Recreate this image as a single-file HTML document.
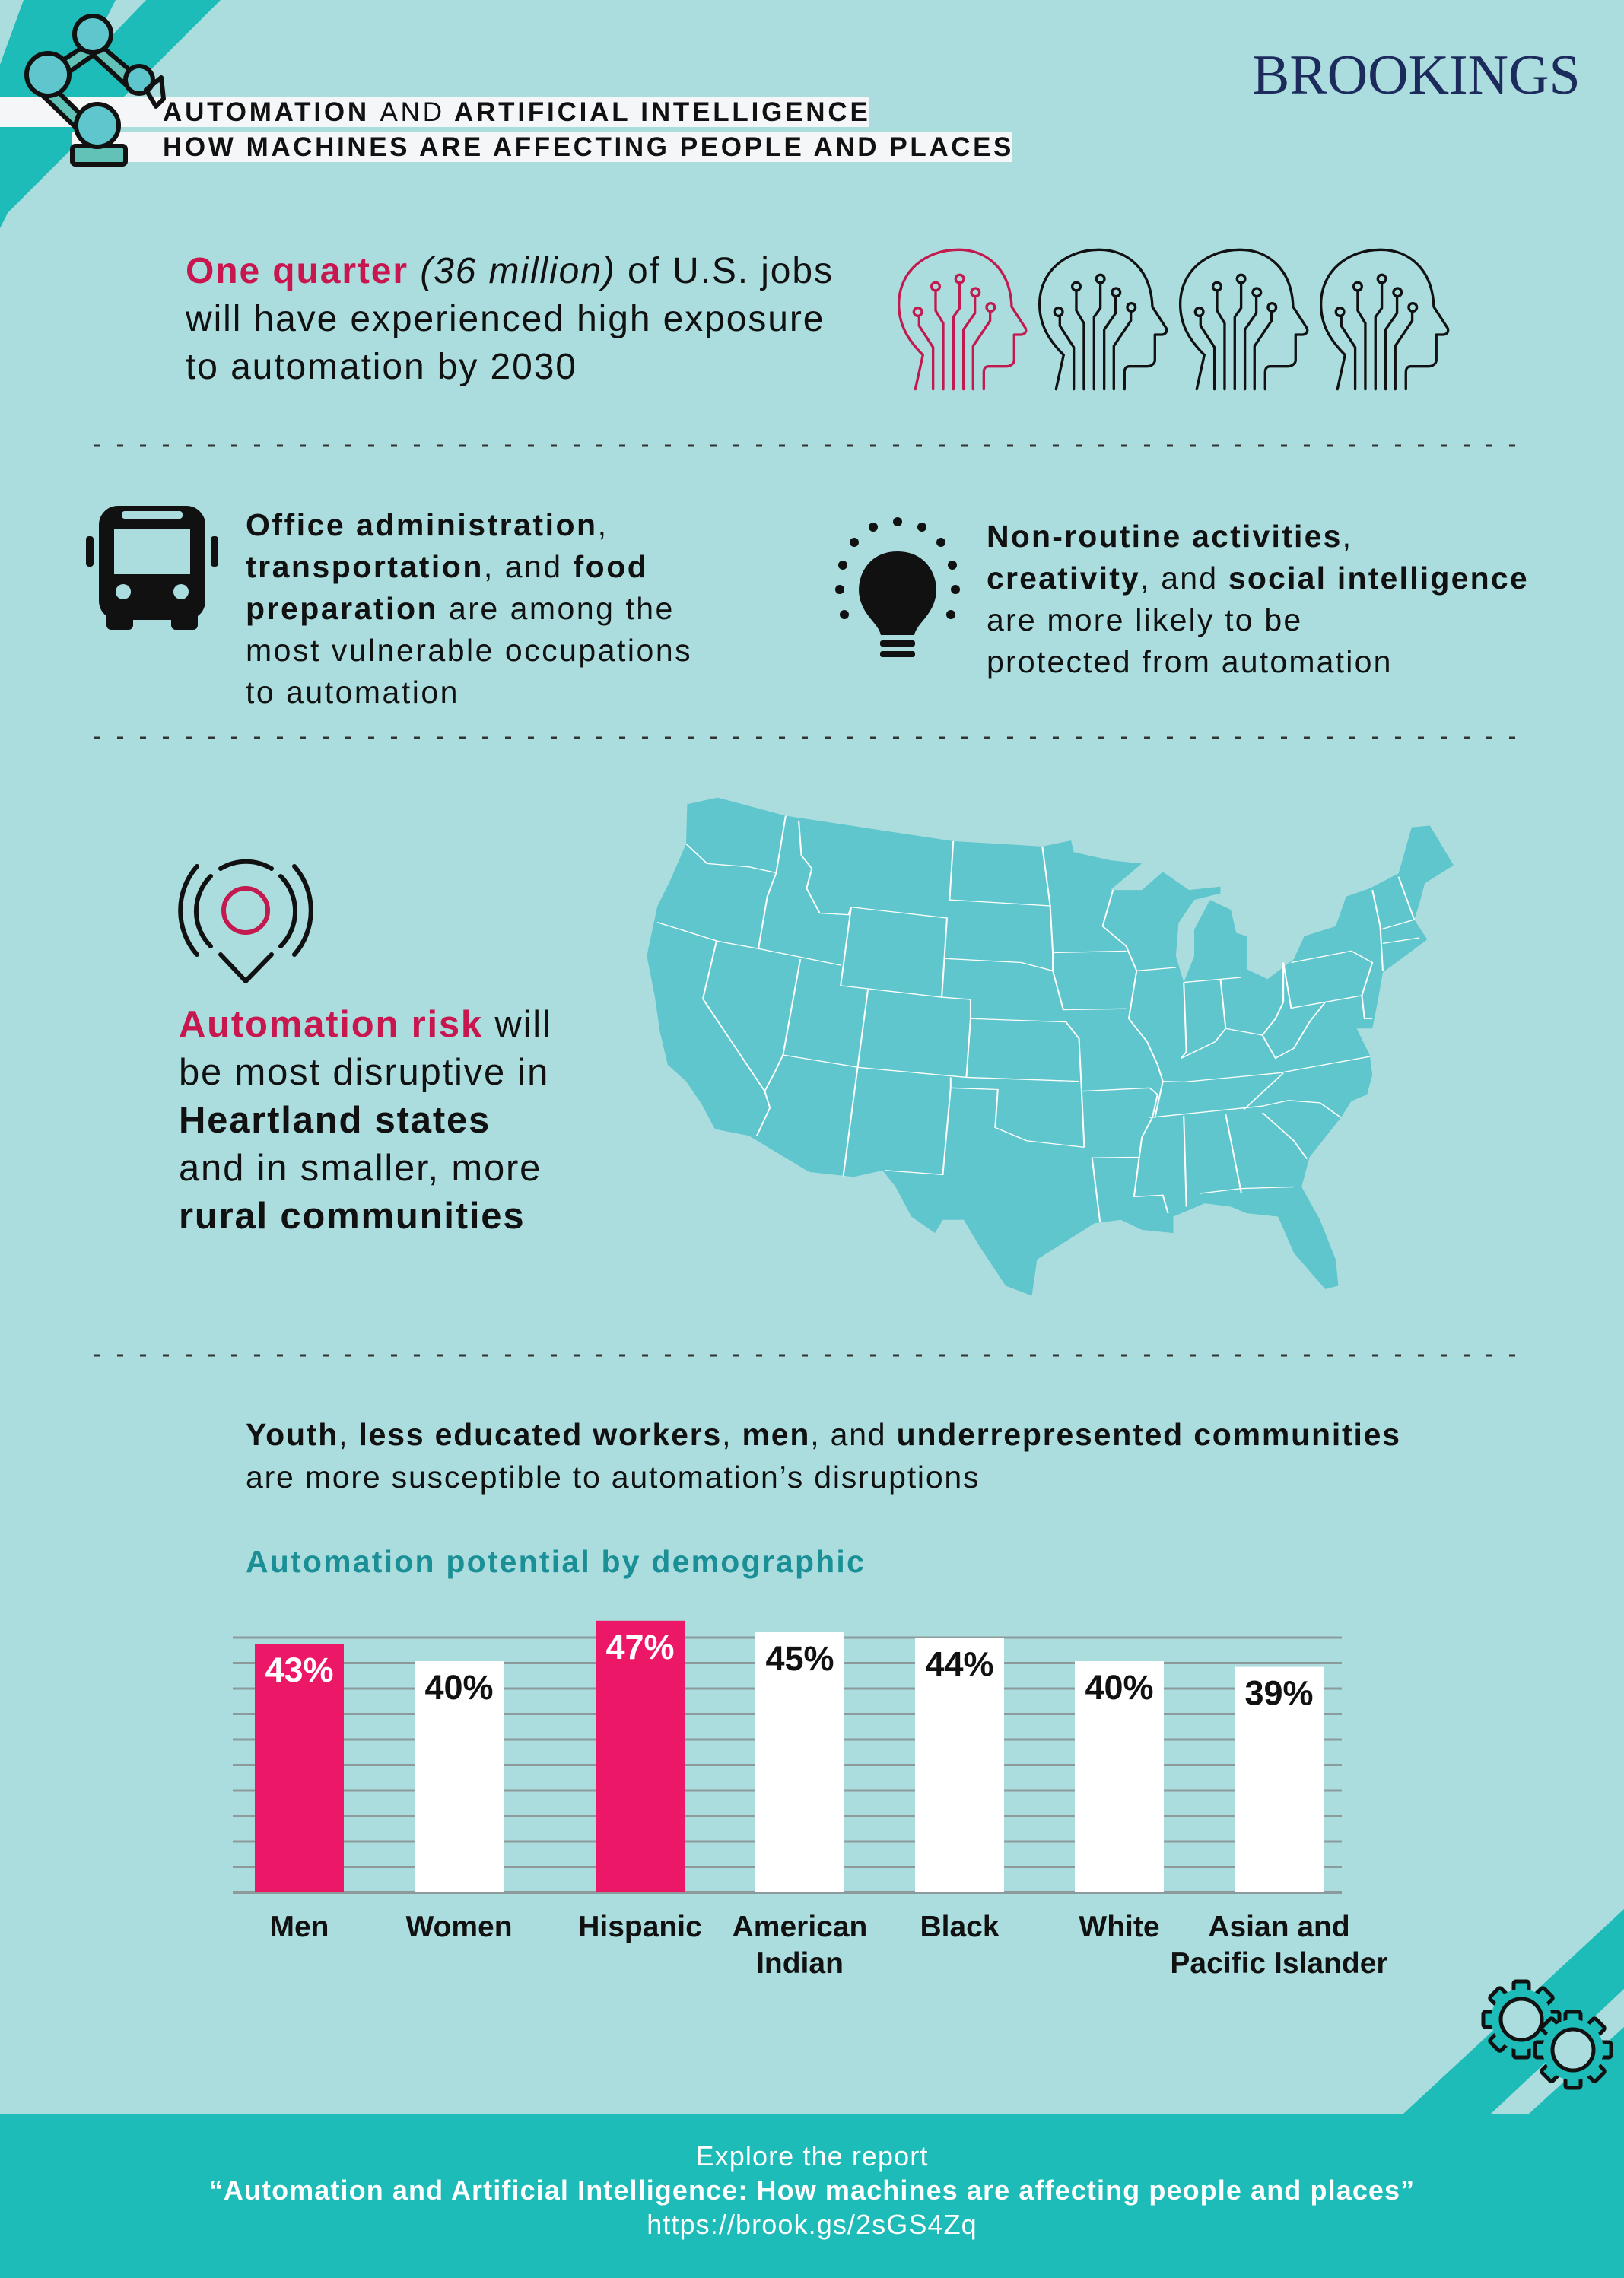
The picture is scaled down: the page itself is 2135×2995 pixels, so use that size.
<!DOCTYPE html>
<html><head><meta charset="utf-8"><style>
*{margin:0;padding:0;box-sizing:border-box}
body{width:2135px;height:2995px;background:#abdddf;position:relative;overflow:hidden;font-family:"Liberation Sans",sans-serif;color:#111}
.t{position:absolute;white-space:nowrap}
b{font-weight:bold}
.pk{color:#c8174f}
</style></head><body>
<svg width="2135" height="2995" style="position:absolute;left:0;top:0">
  <polygon points="31,0 152,0 0,300 0,85" fill="#1dbcb8"/>
  <polygon points="192,0 290,0 0,290 0,200" fill="#1dbcb8"/>
  <polygon points="2135,2510 2135,2615 1960,2779 1845,2779" fill="#1dbcb8"/>
  <polygon points="2135,2665 2135,2779 2010,2779" fill="#1dbcb8"/>
  <rect x="0" y="128" width="1143" height="39" fill="#f4f6f8"/>
  <rect x="95" y="174" width="1236" height="39" fill="#f4f6f8"/>
  <g stroke="#111" stroke-width="6" fill="#5fc6cd" stroke-linejoin="round">
    <polygon points="112,60 58,95 72,108 126,70" fill="#62c2b8"/>
    <polygon points="135,62 180,100 166,112 122,72" fill="#62c2b8"/>
    <polygon points="60,105 118,162 104,172 48,118" fill="#62c2b8"/>
    <rect x="95" y="192" width="70" height="24" rx="4" fill="#62c2b8"/>
    <circle cx="122" cy="45" r="24"/>
    <circle cx="63" cy="98" r="28"/>
    <circle cx="183" cy="105" r="18"/>
    <circle cx="128" cy="165" r="28"/>
    <polygon points="192,118 212,102 215,130 205,140" fill="none"/>
  </g>
  <g stroke="#333" stroke-width="3" stroke-dasharray="8,22">
    <line x1="124" y1="586" x2="2010" y2="586"/>
    <line x1="124" y1="970" x2="2010" y2="970"/>
    <line x1="124" y1="1782" x2="2010" y2="1782"/>
  </g>
  <defs>
    <g id="head" fill="none" stroke-width="10" stroke-linecap="round" stroke-linejoin="round">
      <path d="M130,575 L160,440 C100,380 65,320 65,240 C65,110 170,25 300,25 C420,25 505,110 510,250 L565,335 C570,350 560,360 545,360 L520,360 L520,460 C520,475 505,485 490,485 L420,485 C405,485 400,495 400,510 L400,575"/>
      <path d="M200,575 L200,410 L145,325 L145,285 M240,575 L240,315 L210,265 L210,185 M280,575 L280,290 L305,255 L305,155 M320,575 L320,340 L365,275 L365,210 M358,575 L358,405 L425,305 L425,268"/>
      <circle cx="140" cy="270" r="16"/><circle cx="210" cy="170" r="16"/><circle cx="305" cy="140" r="16"/><circle cx="367" cy="193" r="16"/><circle cx="427" cy="252" r="16"/>
    </g>
    <g id="gear">
      <g fill="#1dbcb8" stroke="#111" stroke-width="5" stroke-linejoin="round">
        <rect x="-10" y="-50" width="20" height="100" rx="3"/>
        <rect x="-10" y="-50" width="20" height="100" rx="3" transform="rotate(45)"/>
        <rect x="-10" y="-50" width="20" height="100" rx="3" transform="rotate(90)"/>
        <rect x="-10" y="-50" width="20" height="100" rx="3" transform="rotate(135)"/>
      </g>
      <circle r="40" fill="#1dbcb8"/>
      <circle r="27" fill="#abdddf" stroke="#111" stroke-width="5"/>
    </g>
  </defs>
  <g transform="translate(1160,320) scale(0.3333)">
    <use href="#head" stroke="#c21a4f"/>
    <use href="#head" stroke="#111" x="555"/>
    <use href="#head" stroke="#111" x="1110"/>
    <use href="#head" stroke="#111" x="1665"/>
  </g>
  <g>
    <rect x="130" y="665" width="140" height="150" rx="25" fill="#111"/>
    <rect x="150" y="695" width="100" height="60" fill="#abdddf"/>
    <rect x="160" y="672" width="80" height="10" rx="4" fill="#abdddf"/>
    <rect x="140" y="800" width="35" height="28" rx="6" fill="#111"/>
    <rect x="225" y="800" width="35" height="28" rx="6" fill="#111"/>
    <circle cx="162" cy="778" r="10" fill="#abdddf"/><circle cx="238" cy="778" r="10" fill="#abdddf"/>
    <rect x="113" y="705" width="10" height="40" rx="4" fill="#111"/><rect x="277" y="705" width="10" height="40" rx="4" fill="#111"/>
  </g>
  <g fill="#111">
    <path d="M1180,725 C1140,725 1125,760 1130,785 C1135,810 1155,820 1158,835 L1202,835 C1205,820 1225,810 1230,785 C1235,760 1220,725 1180,725Z"/>
    <rect x="1157" y="842" width="46" height="8" rx="3"/><rect x="1157" y="856" width="46" height="8" rx="3"/>
    <circle cx="1180" cy="686" r="6"/><circle cx="1148" cy="693" r="6"/><circle cx="1212" cy="693" r="6"/><circle cx="1123" cy="713" r="6"/><circle cx="1237" cy="713" r="6"/><circle cx="1108" cy="743" r="6"/><circle cx="1252" cy="743" r="6"/><circle cx="1104" cy="775" r="6"/><circle cx="1256" cy="775" r="6"/><circle cx="1110" cy="808" r="6"/><circle cx="1250" cy="808" r="6"/>
  </g>
  <g fill="none" stroke="#111" stroke-width="6" stroke-linecap="round" stroke-linejoin="round">
    <path d="M290,1142 A65,65 0 0 1 357,1142"/>
    <path d="M277,1152 A65,65 0 0 0 277,1244"/>
    <path d="M369,1152 A65,65 0 0 1 369,1244"/>
    <path d="M259,1139 A88,88 0 0 0 259,1255"/>
    <path d="M387,1139 A88,88 0 0 1 387,1255"/>
    <path d="M290,1255 L323,1290 L357,1255"/>
    <circle cx="323" cy="1197" r="29" stroke="#c21a4f"/>
  </g>
  <g transform="translate(840,1040) scale(0.6887,0.4337)">
    <polygon fill="#5ec6cc" points="92,40 150,20 280,75 600,152 770,168 825,150 830,185 900,210 960,220 900,300 960,300 1000,245 1050,300 1110,290 1110,310 1060,330 1030,400 1025,500 1040,580 1060,500 1060,420 1090,330 1130,360 1140,430 1160,440 1160,540 1200,570 1250,510 1270,440 1330,410 1350,320 1395,295 1450,250 1475,110 1510,105 1555,225 1500,280 1490,340 1480,390 1505,450 1420,550 1410,640 1400,720 1370,720 1395,800 1400,860 1390,920 1360,940 1340,990 1280,1110 1265,1200 1300,1300 1330,1420 1335,1500 1310,1510 1250,1400 1220,1290 1160,1280 1130,1260 1080,1250 1020,1290 1020,1340 960,1330 920,1300 870,1310 820,1360 760,1420 750,1530 700,1500 650,1380 620,1300 580,1300 565,1340 520,1290 490,1200 465,1150 410,1170 325,1155 210,1045 145,1025 120,950 90,880 55,830 40,730 30,620 15,500 35,350 60,270 90,160"/>
    <g fill="none" stroke="#fff" stroke-width="3" vector-effect="non-scaling-stroke">
      <polyline points="90,160 130,220 210,230 262,248"/>
      <polyline points="280,75 262,248 245,320 228,478"/>
      <polyline points="35,398 150,455 228,478 385,528"/>
      <polyline points="148,455 122,630 240,910 250,960 225,1045"/>
      <polyline points="308,510 275,800 260,850 240,910"/>
      <polyline points="305,90 310,195 330,235 320,295 345,370 400,375 405,352"/>
      <polyline points="405,352 588,385 583,508 578,625 633,632 633,690"/>
      <polyline points="405,352 385,590 578,625"/>
      <polyline points="275,800 420,838 625,868 840,880"/>
      <polyline points="437,603 390,1168"/>
      <polyline points="625,868 633,690"/>
      <polyline points="595,868 595,900 685,905 680,1020 740,1060 850,1080"/>
      <polyline points="595,900 580,1163 470,1150"/>
      <polyline points="600,152 593,330 785,348 790,490"/>
      <polyline points="585,508 730,520 790,545"/>
      <polyline points="633,690 815,700"/>
      <polyline points="770,168 785,348"/>
      <polyline points="790,490 930,485"/>
      <polyline points="790,490 790,545 810,663 930,660"/>
      <polyline points="815,700 840,750 845,910 850,1080"/>
      <polyline points="845,910 975,900 990,920 980,990 960,1050 955,1110 865,1112 880,1305"/>
      <polyline points="955,1110 945,1230 1000,1225 1010,1280"/>
      <polyline points="905,300 885,410 930,470 950,545 1025,535"/>
      <polyline points="950,545 935,690 970,760 990,830 1000,880 985,990"/>
      <polyline points="1040,580 1150,565"/>
      <polyline points="1040,580 1045,790 1035,810"/>
      <polyline points="1110,570 1120,720"/>
      <polyline points="1035,810 1100,760 1120,720 1190,740 1215,690 1230,640 1230,520"/>
      <polyline points="1000,880 1040,882 1220,855 1395,805"/>
      <polyline points="1190,740 1215,810 1250,780 1280,700 1310,640"/>
      <polyline points="1245,520 1360,485 1400,520 1380,620 1245,658 1230,520"/>
      <polyline points="975,990 1190,955"/>
      <polyline points="1155,965 1230,855"/>
      <polyline points="1190,955 1240,938 1300,945 1340,990"/>
      <polyline points="1190,975 1250,1060 1275,1115"/>
      <polyline points="1040,985 1045,1260"/>
      <polyline points="1120,980 1150,1220"/>
      <polyline points="1070,1220 1150,1205 1250,1200"/>
      <polyline points="1400,300 1415,410 1420,545"/>
      <polyline points="1415,420 1480,390"/><polyline points="1420,462 1490,445"/><polyline points="1450,260 1480,390"/>
      <polyline points="1380,620 1385,690 1400,690"/>
    </g>
  </g>
  <g>
    <use href="#gear" x="2000" y="2655"/>
    <use href="#gear" x="2068" y="2695"/>
  </g>
  <rect x="0" y="2779" width="2135" height="216" fill="#1dbcb8"/>
</svg>

<div class="t" style="left:214px;top:128px;font-size:35px;line-height:39px;font-weight:bold;letter-spacing:3.8px">AUTOMATION <span style="font-weight:normal">AND</span> ARTIFICIAL INTELLIGENCE</div>
<div class="t" style="left:214px;top:174px;font-size:35px;line-height:39px;font-weight:bold;letter-spacing:3.6px">HOW MACHINES ARE AFFECTING PEOPLE AND PLACES</div>
<div class="t" style="left:1646px;top:57px;font-family:'Liberation Serif',serif;font-size:74px;color:#1c2a5c">BROOKINGS</div>

<div class="t" style="left:244px;top:325px;font-size:48px;line-height:63px;letter-spacing:1.9px">
<b class="pk">One quarter</b> <i>(36 million)</i> of U.S. jobs<br>will have experienced high exposure<br>to automation by 2030</div>

<div class="t" style="left:323px;top:663px;font-size:41px;line-height:55px;letter-spacing:2.5px">
<b>Office administration</b>,<br><b>transportation</b>, and <b>food</b><br><b>preparation</b> are among the<br>most vulnerable occupations<br>to automation</div>

<div class="t" style="left:1297px;top:678px;font-size:41px;line-height:55px;letter-spacing:2.2px">
<b>Non-routine activities</b>,<br><b>creativity</b>, and <b>social intelligence</b><br>are more  likely to be<br>protected from automation</div>

<div class="t" style="left:235px;top:1316px;font-size:49px;line-height:63px;letter-spacing:1.8px">
<b class="pk">Automation risk</b> will<br>be most disruptive in<br><b>Heartland states</b><br>and in smaller, more<br><b>rural communities</b></div>

<div class="t" style="left:323px;top:1858px;font-size:41px;line-height:56px;letter-spacing:1.8px">
<b>Youth</b>, <b>less educated workers</b>, <b>men</b>, and <b>underrepresented communities</b><br>are more susceptible to automation’s disruptions</div>

<div class="t" style="left:323px;top:2030px;font-size:41px;font-weight:bold;color:#1a8f96;letter-spacing:2.2px">Automation potential by demographic</div>

<svg id="chart" width="2135" height="2995" style="position:absolute;left:0;top:0"></svg>

<div class="t" style="left:0;width:2135px;top:2812px;text-align:center;color:#fff;font-size:36px;line-height:45px;letter-spacing:1.1px">
Explore the report<br><b>“Automation and Artificial Intelligence: How machines are affecting people and places”</b><br><span>https://brook.gs/2sGS4Zq</span></div>

<script>
const categories = ["Men","Women","Hispanic","American|Indian","Black","White","Asian and|Pacific Islander"];
const values = [43,40,47,45,44,40,39];
const highlight = [true,false,true,false,false,false,false];
const gridCount = 10;

const svg = document.getElementById('chart');
const NS = 'http://www.w3.org/2000/svg';
const baseY = 2488, perUnit = 7.6, x0 = 306, x1 = 1764;
const barW = 117, firstX = 335, step = 210, groupGap = 28;
function yScale(v){ return baseY - v*perUnit; }
function xScale(i){ return firstX + i*step + (i >= 2 ? groupGap : 0); }

for (let g = 0; g <= gridCount; g++) {
  const ln = document.createElementNS(NS,'line');
  const y = baseY - g*33.5;
  ln.setAttribute('x1',x0); ln.setAttribute('x2',x1);
  ln.setAttribute('y1',y); ln.setAttribute('y2',y);
  ln.setAttribute('stroke', '#8d9a9b');
  ln.setAttribute('stroke-width', g===0 ? 4 : 3);
  
  
  svg.appendChild(ln);
}
values.forEach((v,i)=>{
  const r = document.createElementNS(NS,'rect');
  const x = xScale(i), y = yScale(v);
  r.setAttribute('x',x); r.setAttribute('y',y);
  r.setAttribute('width',barW); r.setAttribute('height',baseY-y);
  r.setAttribute('fill', highlight[i] ? '#ec1766' : '#ffffff');
  
  
  svg.appendChild(r);
  const t = document.createElementNS(NS,'text');
  t.setAttribute('x', x+barW/2); t.setAttribute('y', y+50);
  t.setAttribute('text-anchor','middle');
  t.setAttribute('font-family','Liberation Sans, sans-serif');
  t.setAttribute('font-weight','bold'); t.setAttribute('font-size','45');
  t.setAttribute('fill', highlight[i] ? '#fff' : '#111');
  t.textContent = v + '%';
  
  
  svg.appendChild(t);
  categories[i].split('|').forEach((line,k)=>{
    const c = document.createElementNS(NS,'text');
    c.setAttribute('x', x+barW/2); c.setAttribute('y', 2546 + k*48);
    c.setAttribute('text-anchor','middle');
    c.setAttribute('font-family','Liberation Sans, sans-serif');
    c.setAttribute('font-weight','bold'); c.setAttribute('font-size','39');
    c.setAttribute('fill','#111');
    c.textContent = line;
    
    
    svg.appendChild(c);
  });
});
</script>
</body></html>
